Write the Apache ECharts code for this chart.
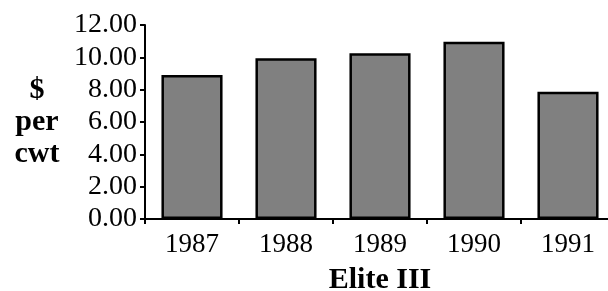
<!DOCTYPE html>
<html style="height: 100%">
<head>
<meta charset="utf-8">
<script src="https://cdn.jsdelivr.net/npm/echarts@6/dist/echarts.min.js"></script>
</head>
<body style="margin: 0">
<div id="container" style="height: 291px; width: 608px;"></div>
<script type="text/javascript">
var years = ['1987', '1988', '1989', '1990', '1991'];
var prices = [8.9, 9.95, 10.25, 10.97, 7.87];
var yTicks = [0, 2, 4, 6, 8, 10, 12];

var chart = echarts.init(document.getElementById('container'));
var serif = '"Liberation Serif", "DejaVu Serif", serif';

var option = {
    animation: false,
    backgroundColor: '#fff',
    grid: { left: 145, top: 25, width: 470, height: 194, outerBoundsMode: 'none', containLabel: false },
    xAxis: {
        type: 'category',
        data: years,
        name: 'Elite III',
        nameLocation: 'middle',
        nameGap: 46,
        nameTextStyle: { fontFamily: serif, fontWeight: 'bold', fontSize: 30, color: '#000' },
        axisLine: { lineStyle: { color: '#000', width: 2 } },
        axisTick: { show: true, length: 5, lineStyle: { color: '#000', width: 2 } },
        axisLabel: { fontFamily: serif, fontSize: 27, color: '#000', margin: 12 }
    },
    yAxis: {
        type: 'value',
        min: yTicks[0],
        max: yTicks[yTicks.length - 1],
        interval: 2,
        name: '$\nper\ncwt',
        nameLocation: 'middle',
        nameRotate: 0,
        nameGap: 108,
        nameTextStyle: {
            fontFamily: serif, fontWeight: 'bold', fontSize: 30, lineHeight: 32,
            color: '#000', align: 'center', padding: [20, 0, 0, 0]
        },
        splitLine: { show: false },
        axisLine: { show: true, lineStyle: { color: '#000', width: 2 } },
        axisTick: { show: true, length: 5, lineStyle: { color: '#000', width: 2 } },
        axisLabel: {
            fontFamily: serif, fontSize: 28, color: '#000', margin: 8,
            formatter: function (v) { return v.toFixed(2); }
        }
    },
    series: [{
        type: 'bar',
        data: prices,
        barWidth: '65%',
        itemStyle: { color: '#808080', borderColor: '#000', borderWidth: 2.5 }
    }]
};
chart.setOption(option);
</script>
</body>
</html>
